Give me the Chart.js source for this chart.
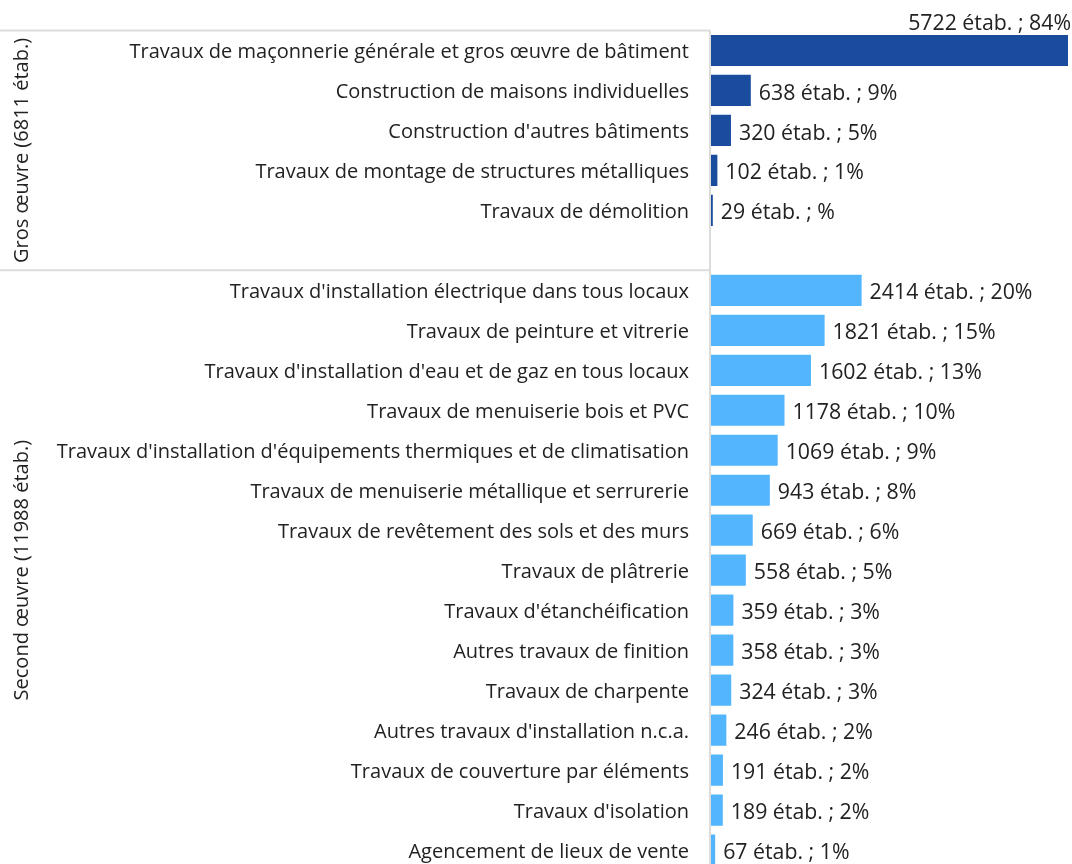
<!DOCTYPE html>
<html>
<head>
    <title>Établissements du bâtiment</title>
    <style>
        html, body {
            margin: 0;
            padding: 0;
            background-color: #fff;
            overflow: hidden;
        }
    </style>
</head>
<body>
<canvas id="etabChart" width="1072" height="870"></canvas>

<script src="https://cdn.jsdelivr.net/npm/chart.js@4.4.1/dist/chart.umd.min.js"></script>
<script>
    // categories (empty string = blank row between the two groups)
    const activites = [
        "Travaux de maçonnerie générale et gros œuvre de bâtiment",
        "Construction de maisons individuelles",
        "Construction d'autres bâtiments",
        "Travaux de montage de structures métalliques",
        "Travaux de démolition",
        "",
        "Travaux d'installation électrique dans tous locaux",
        "Travaux de peinture et vitrerie",
        "Travaux d'installation d'eau et de gaz en tous locaux",
        "Travaux de menuiserie bois et PVC",
        "Travaux d'installation d'équipements thermiques et de climatisation",
        "Travaux de menuiserie métallique et serrurerie",
        "Travaux de revêtement des sols et des murs",
        "Travaux de plâtrerie",
        "Travaux d'étanchéification",
        "Autres travaux de finition",
        "Travaux de charpente",
        "Autres travaux d'installation n.c.a.",
        "Travaux de couverture par éléments",
        "Travaux d'isolation",
        "Agencement de lieux de vente"
    ];

    const nbEtab = [5722, 638, 320, 102, 29, null,
        2414, 1821, 1602, 1178, 1069, 943, 669, 558, 359, 358, 324, 246, 191, 189, 67];

    const parts = ["84", "9", "5", "1", "", "",
        "20", "15", "13", "10", "9", "8", "6", "5", "3", "3", "3", "2", "2", "2", "1"];

    // 0 = gros oeuvre, 1 = second oeuvre
    const groupeIdx = [0, 0, 0, 0, 0, 0, 1, 1, 1, 1, 1, 1, 1, 1, 1, 1, 1, 1, 1, 1, 1];

    const groupes = ["Gros œuvre (6811 étab.)", "Second œuvre (11988 étab.)"];
    const groupeDebut = [0, 6];    // first row of each block
    const groupeFin = [6, 21];     // row after the block

    const couleurs = ['#1a4c9e', '#52b5fd'];
    const police = "'Open Sans', sans-serif";
    const taille = 20;
    const tailleValeur = 21.3;

    // pixel of the top edge of row i
    function ligneHaut(scale, i) {
        const pas = scale.getPixelForValue(1) - scale.getPixelForValue(0);
        return scale.getPixelForValue(0) + pas * (i - 0.5);
    }

    const groupesPlugin = {
        id: 'groupes',
        afterDraw(chart) {
            const ctx = chart.ctx;
            const y = chart.scales.y;
            const area = chart.chartArea;

            ctx.save();
            ctx.strokeStyle = '#dcdcdc';
            ctx.lineWidth = 2;

            // vertical axis line
            ctx.beginPath();
            ctx.moveTo(area.left - 1, ligneHaut(y, 0));
            ctx.lineTo(area.left - 1, chart.height);
            ctx.stroke();

            groupes.forEach((nom, g) => {
                const haut = ligneHaut(y, groupeDebut[g]);
                const bas = ligneHaut(y, groupeFin[g]);
                ctx.beginPath();
                ctx.moveTo(0, haut);
                ctx.lineTo(area.left - 1, haut);
                ctx.stroke();

                ctx.save();
                ctx.translate(22, (haut + bas) / 2);
                ctx.rotate(-Math.PI / 2);
                ctx.fillStyle = '#222';
                ctx.font = taille + 'px ' + police;
                ctx.textAlign = 'center';
                ctx.textBaseline = 'middle';
                ctx.fillText(nom, 0, 0);
                ctx.restore();
            });
            ctx.restore();

            // value labels
            const meta = chart.getDatasetMeta(0);
            ctx.save();
            ctx.fillStyle = '#222';
            ctx.font = tailleValeur + 'px ' + police;
            ctx.textBaseline = 'middle';
            meta.data.forEach((bar, i) => {
                if (nbEtab[i] === null) return;
                const texte = nbEtab[i] + ' étab. ; ' + parts[i] + '%';
                if (i === 0) {
                    ctx.textAlign = 'right';
                    ctx.fillText(texte, chart.width - 1, bar.y - 27);
                } else {
                    ctx.textAlign = 'left';
                    ctx.fillText(texte, bar.x + 8, bar.y + 3);
                }
            });
            ctx.restore();
        }
    };

    new Chart(document.getElementById('etabChart'), {
        type: 'bar',
        data: {
            labels: activites,
            datasets: [{
                data: nbEtab,
                backgroundColor: groupeIdx.map(g => couleurs[g]),
                categoryPercentage: 1,
                barPercentage: 0.78
            }]
        },
        options: {
            indexAxis: 'y',
            responsive: false,
            animation: false,
            layout: {
                padding: { top: 30.5, right: 4, bottom: 0, left: 0 }
            },
            scales: {
                x: {
                    display: false,
                    min: 0,
                    max: 5722
                },
                y: {
                    afterFit(scale) {
                        scale.width = 711;
                        scale.paddingTop = 0;
                        scale.paddingBottom = 0;
                    },
                    grid: { display: false, drawTicks: false },
                    border: { display: false },
                    ticks: {
                        autoSkip: false,
                        padding: 22,
                        labelOffset: 2,
                        color: '#222',
                        font: { family: police, size: taille }
                    }
                }
            },
            plugins: {
                legend: { display: false },
                tooltip: { enabled: false }
            }
        },
        plugins: [groupesPlugin]
    });
</script>
</body>
</html>
